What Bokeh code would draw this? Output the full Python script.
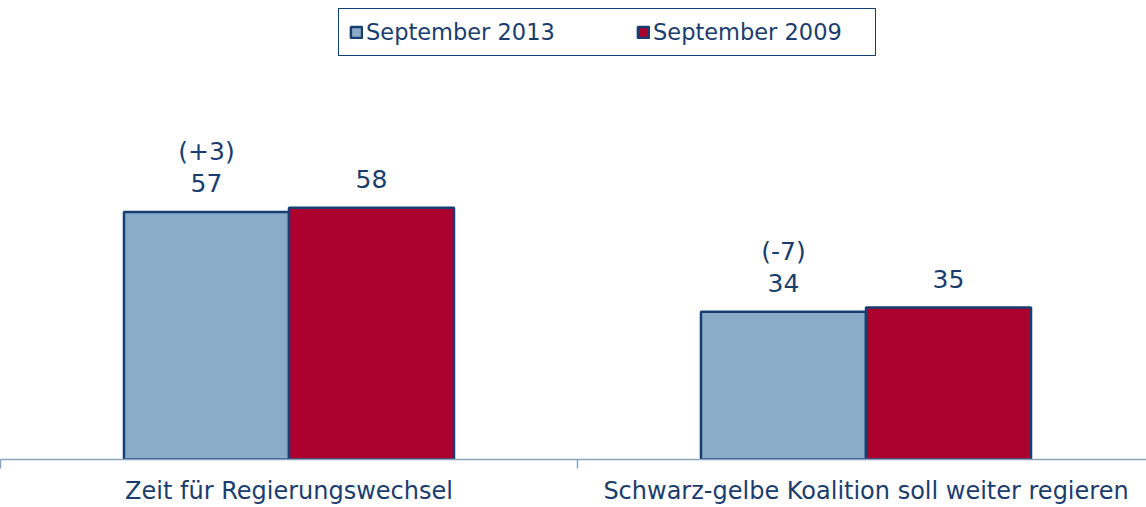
from bokeh.plotting import figure
from bokeh.models import ColumnDataSource, Legend, LegendItem, LinearAxis, FixedTicker, Range1d
from bokeh.core.properties import value
from bokeh.embed import file_html
from bokeh.resources import INLINE

categories = ["Zeit für Regierungswechsel", "Schwarz-gelbe Koalition soll weiter regieren"]
series_names = ["September 2013", "September 2009"]
values_2013 = [57, 34]
values_2009 = [58, 35]
changes_2013 = ["(+3)", "(-7)"]

FONT = "DejaVu Sans"
TEXT_COLOR = "#1B3D6E"
OUTLINE = "#173E72"
COL_2013 = "#8BACC8"
COL_2009 = "#AC002E"
AXIS_COLOR = "#8AA3BC"

centers = [i + 0.5 for i in range(len(categories))]
bw = 0.286
x13 = [c - bw / 2 for c in centers]
x09 = [c + bw / 2 for c in centers]

W, H = 1146, 507
FRAME_H = 460
p = figure(width=W, height=H, output_backend="svg", toolbar_location=None,
           x_range=Range1d(0, W / 577), y_range=Range1d(0, FRAME_H / 4.352),
           min_border_left=0, min_border_right=0, min_border_top=0,
           min_border_bottom=H - FRAME_H,
           x_axis_type=None, y_axis_type=None)
p.outline_line_color = None
p.xgrid.visible = False
p.ygrid.visible = False
p.background_fill_color = "white"

src13 = ColumnDataSource(dict(x=x13, top=values_2013, lab=[str(v) for v in values_2013], chg=changes_2013))
src09 = ColumnDataSource(dict(x=x09, top=values_2009, lab=[str(v) for v in values_2009]))

r13 = p.vbar(x="x", top="top", width=bw, bottom=0, source=src13, fill_color=COL_2013,
             line_color=OUTLINE, line_width=2.5)
r09 = p.vbar(x="x", top="top", width=bw, bottom=0, source=src09, fill_color=COL_2009,
             line_color=OUTLINE, line_width=2.5)

for s in (src13, src09):
    p.text(x="x", y="top", text="lab", source=s, text_align="center", text_baseline="alphabetic",
           y_offset=-29, text_font=value(FONT), text_font_size="25px", text_color=TEXT_COLOR)
p.text(x="x", y="top", text="chg", source=src13, text_align="center", text_baseline="alphabetic",
       y_offset=-60, text_font=value(FONT), text_font_size="25px", text_color=TEXT_COLOR)

xaxis = LinearAxis(ticker=FixedTicker(ticks=centers, minor_ticks=[0, 1, 2]))
xaxis.major_label_overrides = {c: lab for c, lab in zip(centers, categories)}
xaxis.axis_line_color = AXIS_COLOR
xaxis.axis_line_width = 1.5
xaxis.major_tick_line_color = None
xaxis.major_tick_in = 0
xaxis.major_tick_out = 0
xaxis.minor_tick_line_color = AXIS_COLOR
xaxis.minor_tick_line_width = 1.5
xaxis.minor_tick_in = 0
xaxis.minor_tick_out = 9
xaxis.major_label_standoff = 8
xaxis.axis_label_standoff = 0
xaxis.major_label_text_font = FONT
xaxis.major_label_text_font_size = "24px"
xaxis.major_label_text_color = TEXT_COLOR
p.add_layout(xaxis, "below")

legend = Legend(items=[LegendItem(label=series_names[0], renderers=[r13]),
                       LegendItem(label=series_names[1], renderers=[r09])],
                orientation="horizontal", location=(338, FRAME_H - 57),
                padding=10, spacing=58, glyph_width=14, glyph_height=14,
                label_standoff=3, label_width=212, label_height=22,
                label_text_font=FONT, label_text_font_size="22.5px", label_text_color=TEXT_COLOR,
                border_line_color=OUTLINE, border_line_width=1.2, border_line_alpha=1,
                background_fill_color="white", background_fill_alpha=1, margin=0)
p.add_layout(legend, "center")

open("out.html", "w").write(file_html(p, INLINE))
